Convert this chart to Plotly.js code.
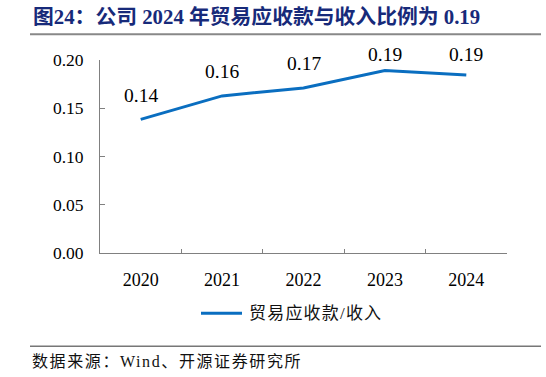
<!DOCTYPE html>
<html><head><meta charset="utf-8">
<script src="https://cdn.plot.ly/plotly-3.0.1.min.js"></script>
<style>body{margin:0;background:#fff}#c{width:546px;height:377px}</style>
</head><body><div id="c"></div>
<script>
const years = ['2020','2021','2022','2023','2024'];
const ratio = [0.1385, 0.1628, 0.1710, 0.1890, 0.1845];
const labels = ['0.14','0.16','0.17','0.19','0.19'];
const seriesName = '贸易应收款/收入';
const titleText = '图24：公司 2024 年贸易应收款与收入比例为 0.19';
const sourceText = '数据来源：Wind、开源证券研究所';

const serif = 'Liberation Serif, Noto Sans CJK SC, serif';
const W = 546, H = 377, L = 100, R = 507, T = 59.5, B = 253.5;
const YMAX = 0.2;
const px = x => (x - L) / (R - L);
const py = y => (B - y) / (B - T);
const lineColor = '#0A6EC0';

const trace = {
  x: years, y: ratio, type: 'scatter', mode: 'lines', name: seriesName, showlegend: false,
  line: {color: lineColor, width: 3}
};
// data labels: ~24px above the point, kept below the top limit of the chart area
const ann = years.map((yr, i) => {
  const yPix = B - ratio[i] / YMAX * (B - T);
  const labelPix = Math.max(yPix - 24, 54);
  return {x: i, y: ratio[i], text: labels[i], showarrow: false, yshift: yPix - labelPix,
    font: {family: serif, size: 19.5, color: '#000'}};
});
// manual legend text
ann.push({xref: 'paper', yref: 'paper', x: px(247), y: py(314), xanchor: 'left', yanchor: 'middle',
  text: '<span style="letter-spacing:1.2px">' + seriesName + '</span>', showarrow: false,
  font: {family: serif, size: 17, color: '#111'}});
ann.push({xref: 'paper', yref: 'paper', x: px(30), y: py(363), xanchor: 'left', yanchor: 'middle',
  text: '<span style="letter-spacing:1.6px">' + sourceText + '</span>', showarrow: false,
  font: {family: serif, size: 16, color: '#111'}});
ann.push({xref: 'paper', yref: 'paper', x: px(31), y: py(16), xanchor: 'left', yanchor: 'middle',
  text: '<b>' + titleText + '</b>', showarrow: false, font: {family: serif, size: 20.8, color: '#172A7A'}});

const layout = {
  width: W, height: H,
  margin: {l: L, r: W - R, t: T, b: H - B, pad: 0},
  paper_bgcolor: '#fff', plot_bgcolor: '#fff',
  showlegend: false,
  xaxis: {type: 'category', range: [-0.5, 4.5], showline: true, linecolor: '#808080', linewidth: 1,
    ticks: 'inside', tickson: 'boundaries', ticklen: 4, tickcolor: '#808080', showgrid: false, zeroline: false,
    ticklabelstandoff: 10, tickfont: {family: serif, size: 18, color: '#000'}},
  yaxis: {range: [0, YMAX], dtick: 0.05, tickformat: '.2f', showline: true, linecolor: '#808080', linewidth: 1,
    ticks: 'inside', ticklen: 5, tickcolor: '#808080', showgrid: false, zeroline: false,
    ticklabelstandoff: 12, tickfont: {family: serif, size: 17.5, color: '#000'}},
  annotations: ann,
  shapes: [
    {type: 'line', xref: 'paper', yref: 'paper', x0: px(201), x1: px(242), y0: py(314), y1: py(314), line: {color: lineColor, width: 3}},
    {type: 'line', xref: 'paper', yref: 'paper', x0: px(30), x1: px(541), y0: py(33.5), y1: py(33.5), line: {color: '#888', width: 2}},
    {type: 'line', xref: 'paper', yref: 'paper', x0: px(30), x1: px(541), y0: py(347.3), y1: py(347.3), line: {color: '#777', width: 1.5}}
  ]
};
Plotly.newPlot('c', [trace], layout, {displayModeBar: false, staticPlot: true});
</script></body></html>
